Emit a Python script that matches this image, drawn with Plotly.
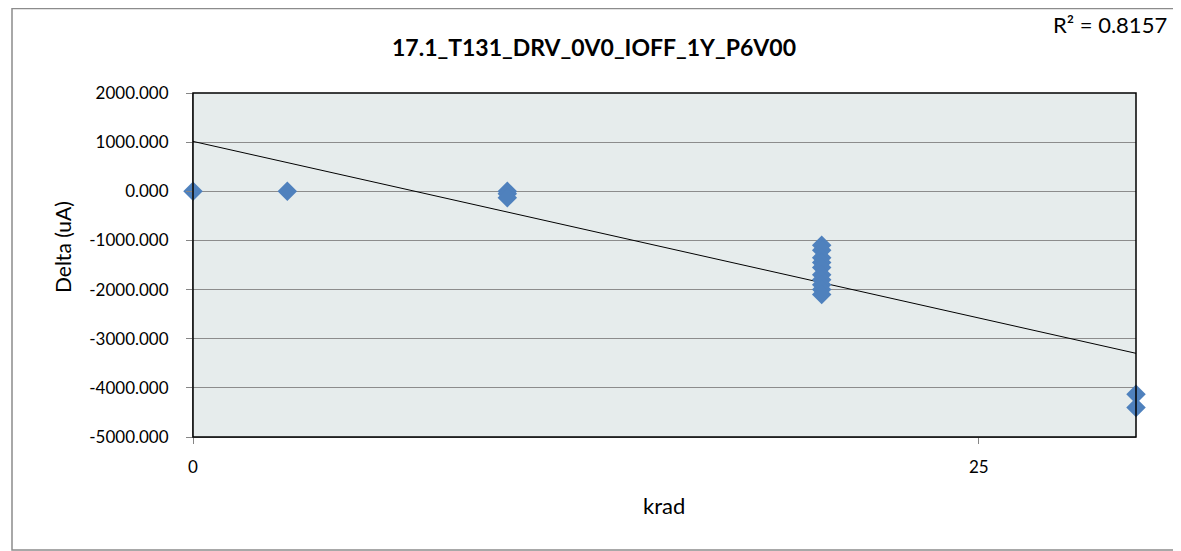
import numpy as np
import plotly.graph_objects as go

# Data
krad = [0, 3, 10, 10, 10,
        20, 20, 20, 20, 20, 20, 20, 20, 20, 20,
        30, 30]
delta_ua = [0, 0, 0, -50, -130,
            -1100, -1200, -1350, -1450, -1550, -1700, -1800, -1900, -2000, -2100,
            -4130, -4400]
title_text = "17.1_T131_DRV_0V0_IOFF_1Y_P6V00"
r2_text = "R² = 0.8157"
x_ticks = [0, 25]
y_ticks = [2000, 1000, 0, -1000, -2000, -3000, -4000, -5000]

# Linear trendline from the data
slope, intercept = np.polyfit(krad, delta_ua, 1)
trend_x = [0, 30]
trend_y = [intercept + slope * v for v in trend_x]

font_family = "Lato, 'Open Sans', 'Liberation Sans', sans-serif"

fig = go.Figure()
fig.add_trace(go.Scatter(
    x=trend_x, y=trend_y, mode="lines",
    line=dict(color="black", width=1), showlegend=False, hoverinfo="skip"))
fig.add_trace(go.Scatter(
    x=krad, y=delta_ua, mode="markers",
    marker=dict(symbol="diamond", size=15, color="#4F81BD",
                line=dict(width=0)),
    cliponaxis=False, showlegend=False))

# page has an 8px body margin; work in figure pixel coordinates
OFF = 8
W, H = 1181 - OFF, 551 - OFF
L, R, T, B = 193 - OFF, 1136 - OFF, 93 - OFF, 437 - OFF
pw, ph = R - L, B - T

def px(xp):
    return (xp - OFF - L) / pw

def py(yp):
    return (B - (yp - OFF)) / ph

fig.update_layout(
    width=W, height=H,
    margin=dict(l=L, r=W - R, t=T, b=H - B, autoexpand=False),
    paper_bgcolor="white",
    plot_bgcolor="#E6ECEC",
    font=dict(family=font_family, size=17, color="black"),
    xaxis=dict(range=[0, 30], tickvals=x_ticks, ticktext=[str(v) for v in x_ticks],
               showgrid=False, zeroline=False, showline=True, linecolor="#868686",
               linewidth=1, ticks="outside", ticklen=6, tickcolor="#868686",
               tickfont=dict(size=17), ticklabelstandoff=9),
    yaxis=dict(range=[-5000, 2000], tickvals=y_ticks,
               ticktext=[f"{v:.3f}" for v in y_ticks],
               showgrid=True, gridcolor="#8C8C8C", gridwidth=1,
               zeroline=False, showline=True, linecolor="#868686",
               linewidth=1, ticks="outside", ticklen=6, tickcolor="#868686",
               tickfont=dict(size=17), ticklabelstandoff=14),
    shapes=[
        dict(type="rect", xref="paper", yref="paper", x0=0, x1=1, y0=0, y1=1,
             line=dict(color="black", width=1.5), layer="above"),
        dict(type="rect", xref="paper", yref="paper",
             x0=px(12), x1=px(1177), y0=py(550), y1=py(8.5),
             line=dict(color="#8C8C8C", width=1.5)),
    ],
    annotations=[
        dict(text="<b>" + title_text + "</b>", xref="paper", yref="paper",
             x=px(594), y=py(47), xanchor="center", yanchor="middle",
             showarrow=False, font=dict(size=23, family=font_family)),
        dict(text=r2_text, xref="paper", yref="paper", x=px(1168), y=py(24),
             xanchor="right", yanchor="middle", showarrow=False, borderpad=0,
             font=dict(size=22, family=font_family)),
        dict(text="krad", xref="paper", yref="paper", x=px(664), y=py(506),
             xanchor="center", yanchor="middle", showarrow=False,
             font=dict(size=22, family=font_family)),
        dict(text="Delta (uA)", xref="paper", yref="paper", x=px(62), y=py(247),
             xanchor="center", yanchor="middle", showarrow=False, textangle=-90,
             font=dict(size=21, family=font_family)),
    ],
)

fig.write_html("out.html")
